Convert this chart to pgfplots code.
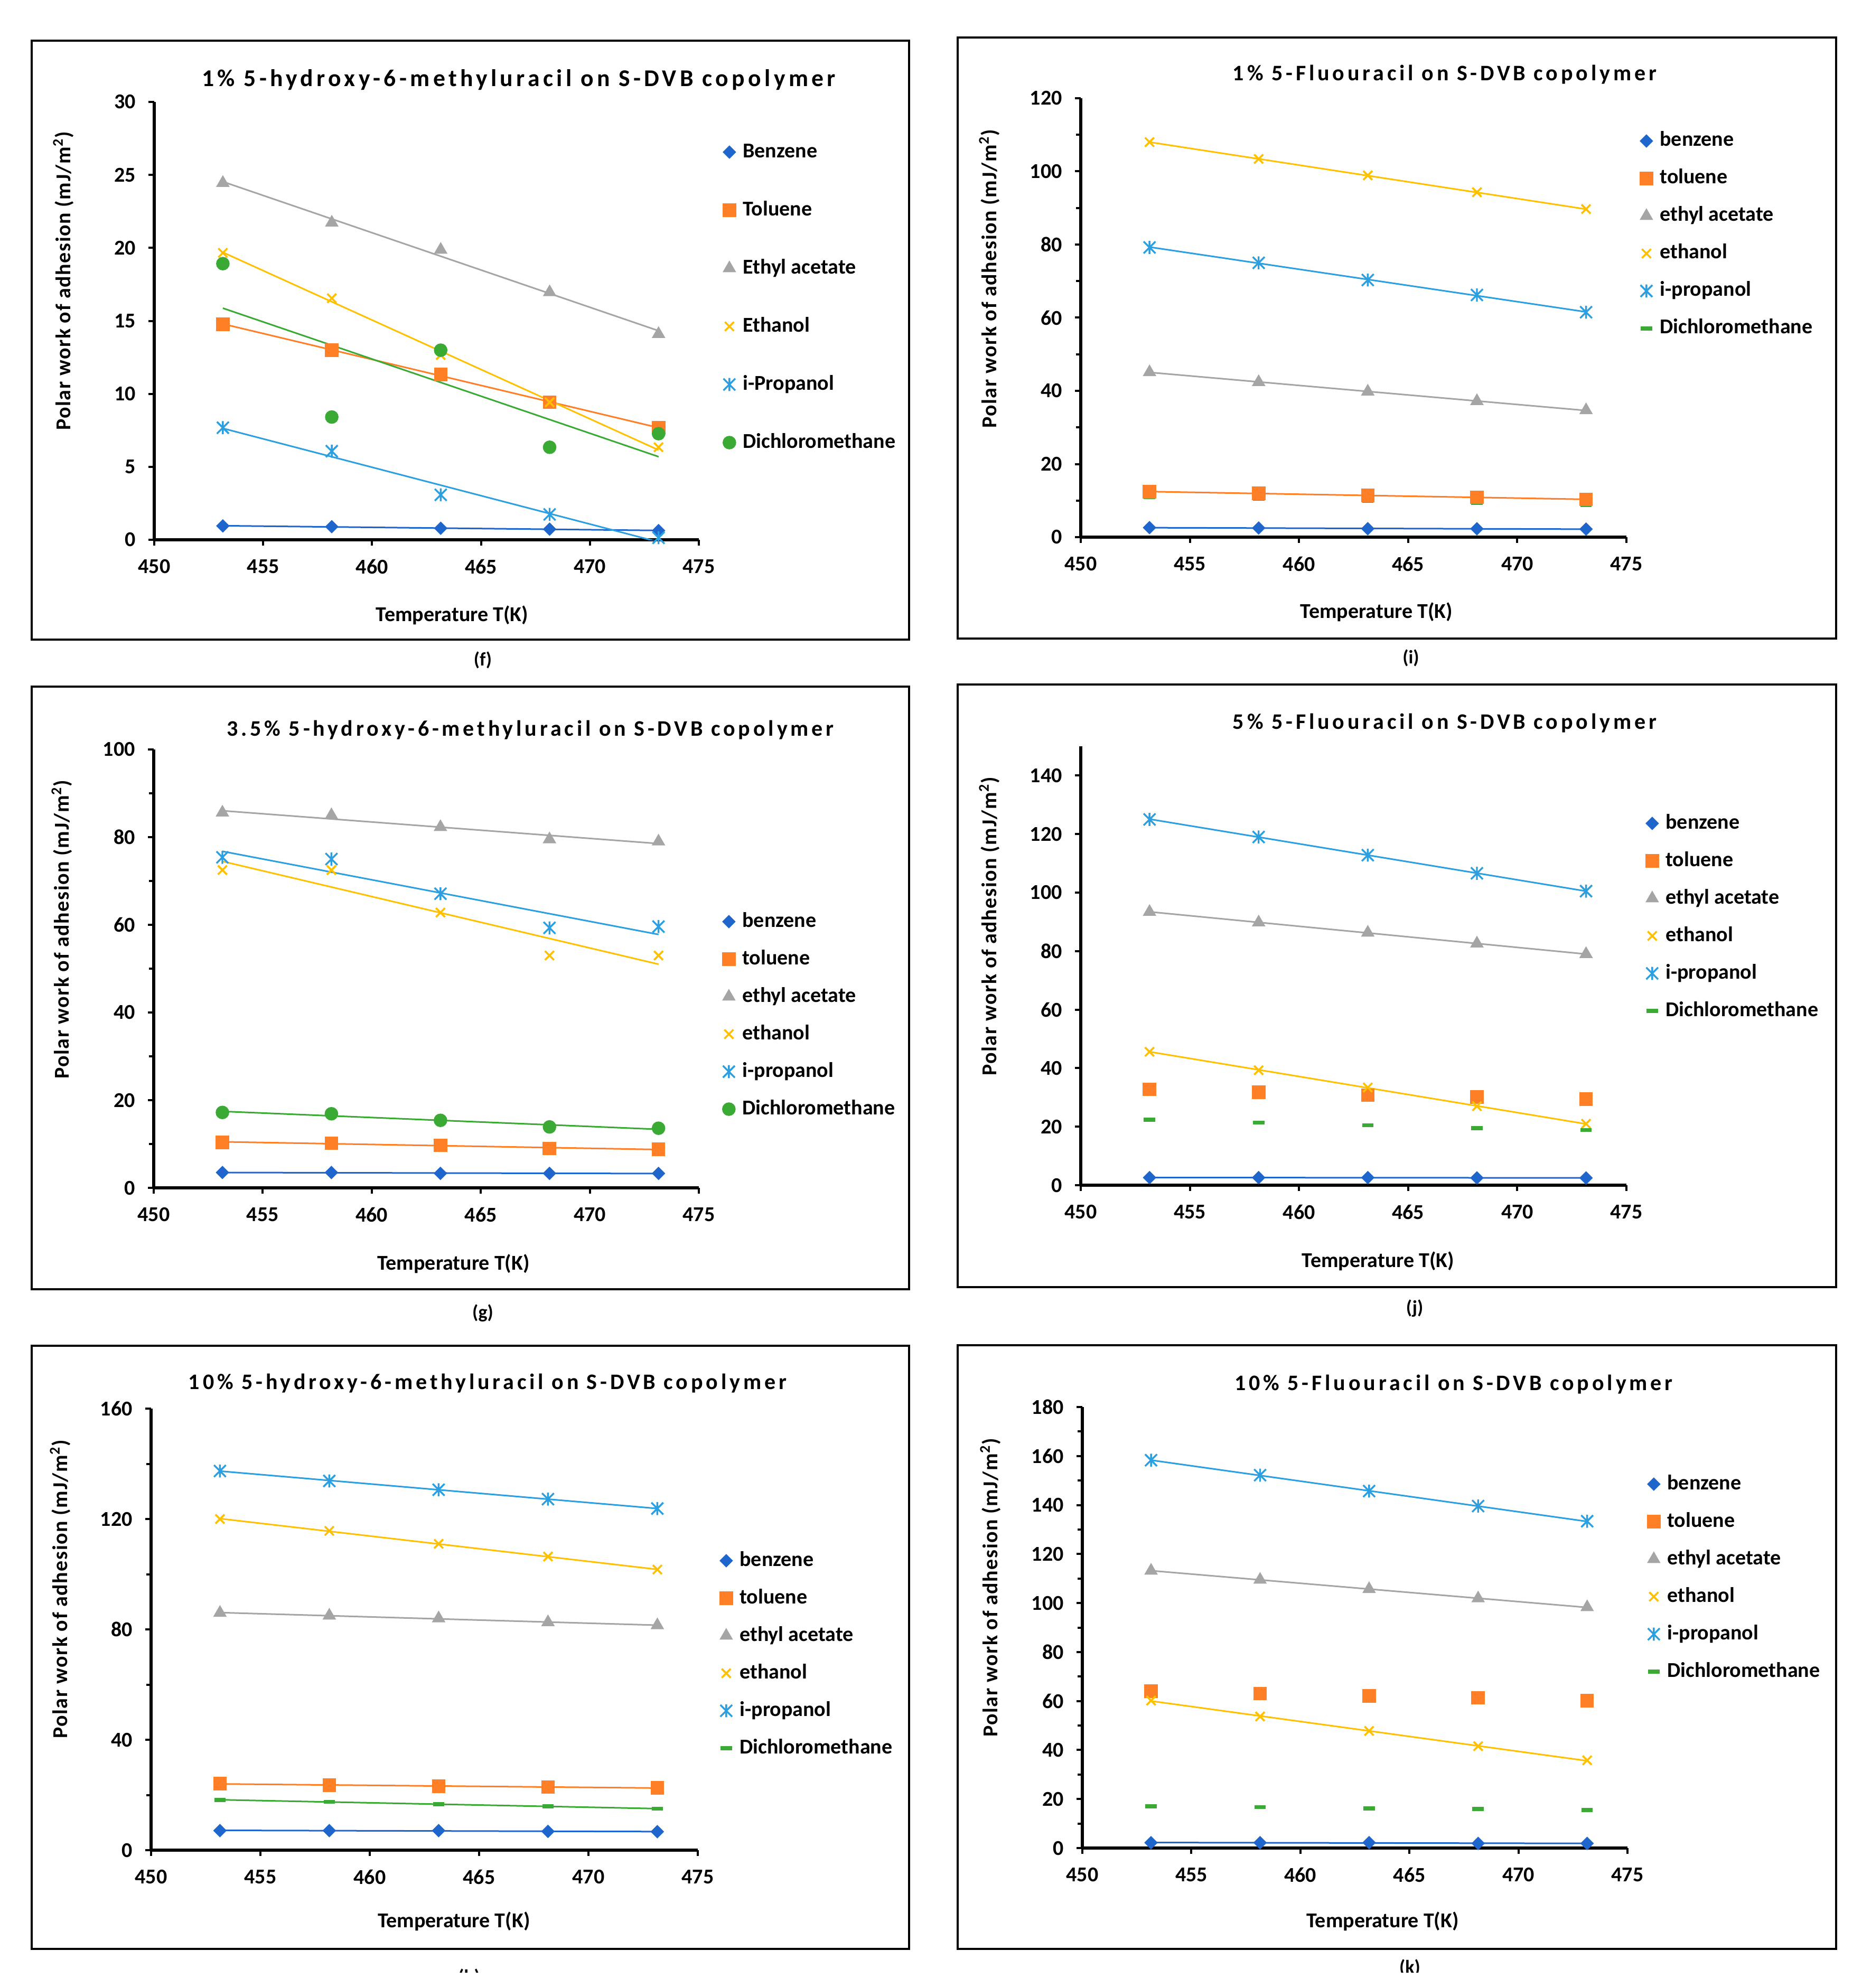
\documentclass[border=0pt]{standalone}
\usepackage{fontspec}
\setmainfont{Carlito}
\usepackage{pgfplots}
\usepackage{pgfplotstable}
\pgfplotsset{compat=1.18}

\definecolor{cBenz}{HTML}{1F66CC}
\definecolor{cTol}{HTML}{FF7F27}
\definecolor{cEA}{HTML}{A5A5A5}
\definecolor{cEth}{HTML}{FFC000}
\definecolor{cIpr}{HTML}{2C9FE0}
\definecolor{cDcm}{HTML}{3BAA35}

\pgfdeclareplotmark{xstar}{%
  \pgfpathmoveto{\pgfqpoint{-\pgfplotmarksize}{-\pgfplotmarksize}}%
  \pgfpathlineto{\pgfqpoint{\pgfplotmarksize}{\pgfplotmarksize}}%
  \pgfpathmoveto{\pgfqpoint{-\pgfplotmarksize}{\pgfplotmarksize}}%
  \pgfpathlineto{\pgfqpoint{\pgfplotmarksize}{-\pgfplotmarksize}}%
  \pgfpathmoveto{\pgfqpoint{0pt}{-1.1\pgfplotmarksize}}%
  \pgfpathlineto{\pgfqpoint{0pt}{1.1\pgfplotmarksize}}%
  \pgfusepathqstroke}
\pgfdeclareplotmark{sqdiam}{%
  \pgfpathmoveto{\pgfqpoint{0pt}{\pgfplotmarksize}}%
  \pgfpathlineto{\pgfqpoint{\pgfplotmarksize}{0pt}}%
  \pgfpathlineto{\pgfqpoint{0pt}{-\pgfplotmarksize}}%
  \pgfpathlineto{\pgfqpoint{-\pgfplotmarksize}{0pt}}%
  \pgfpathclose\pgfusepathqfillstroke}

\newcommand\tickfont{\fontsize{10}{12}\selectfont\bfseries}
\newcommand\titlefont{\fontsize{10.5}{12}\selectfont\bfseries\addfontfeatures{LetterSpace=14}}
\newcommand\titlefontbig{\fontsize{11.4}{13}\selectfont\bfseries\addfontfeatures{LetterSpace=14}}
\newcommand\ylfont{\fontsize{10}{12}\selectfont\bfseries\addfontfeatures{LetterSpace=4}}
\newcommand\capfont{\fontsize{9}{11}\selectfont\bfseries}

\pgfplotsset{
  legimg/.style={legend image code/.code={\path (-3.4pt,0pt) (3.4pt,0pt); \draw[##1] plot coordinates {(0pt,0pt)};}},
  mbenz/.style={only marks, mark=sqdiam, mark size=2.9pt, color=cBenz, legimg},
  mtol/.style={only marks, mark=square*, mark size=3.0pt, color=cTol, legimg},
  mea/.style={only marks, mark=triangle*, mark size=3.3pt, color=cEA, legimg},
  meth/.style={only marks, mark=x, mark size=3.0pt, color=cEth, mark options={line width=0.9pt}, legimg},
  mipr/.style={only marks, mark=xstar, mark size=2.8pt, color=cIpr, mark options={line width=0.85pt}, legimg},
  mdcmc/.style={only marks, mark=*, mark size=3.0pt, color=cDcm, legimg},
  mdcmd/.style={only marks, mark=-, mark size=2.7pt, color=cDcm, mark options={line width=1.9pt}, legimg},
  trend/.style={no markers, line width=0.75pt, forget plot},
  panel/.style={
    scale only axis, anchor=south west,
    xmin=450, xmax=475, xtick={450,455,460,465,470,475}, ymin=0,
    axis lines*=left,
    axis line style={line width=1.5pt, black},
    tick align=outside,
    major tick length=2.8pt, minor tick length=2.2pt,
    every tick/.style={black, line width=1pt},
    /pgf/number format/assume math mode=true,
    tick label style={font=\tickfont, black},
    xticklabel style={yshift=-3pt},
    yticklabel style={xshift=-2.5pt},
    title style={font=\titlefont, anchor=center, yshift=-6.5pt},
    xlabel style={font=\tickfont, anchor=center},
    ylabel style={font=\ylfont, anchor=center},
    xlabel={Temperature T(K)},
    ylabel={Polar work of adhesion (mJ/m\textsuperscript{2})},
    legend cell align=left,
    legend style={draw=none, fill=none, inner sep=0pt, outer sep=0pt, anchor=north west,
      column sep=2.8pt, row sep=8.75pt, font=\tickfont,
      nodes={inner sep=0pt, text height=7pt, text depth=2pt}},
  },
}

% (f) 1% 5-hydroxy-6-methyluracil
\pgfplotstableread{
T      benz  tol    ea     eth    ipr   dcm
453.15 0.95  14.76  24.45  19.66  7.68  18.92
458.15 0.90  12.99  21.73  16.55  6.07  8.41
463.15 0.79  11.33  19.87  12.66  3.08  12.99
468.15 0.73  9.42   16.96  9.42   1.74  6.34
473.15 0.63  7.68   14.10  6.34   0.14  7.27
}\tabF
% (i) 1% 5-fluorouracil
\pgfplotstableread{
T      benz  tol   ea    eth    ipr   dcm
453.15 2.6   12.4  45.1  108.0  79.2  11.0
458.15 2.5   12.0  42.4  103.4  75.0  10.5
463.15 2.3   11.4  39.8  98.9   70.3  10.0
468.15 2.3   10.9  37.2  94.3   66.2  9.4
473.15 2.2   10.3  34.7  89.7   61.5  8.8
}\tabI
% (g) 3.5% 5-hydroxy-6-methyluracil
\pgfplotstableread{
T      benz  tol   ea    eth   ipr   dcm
453.15 3.5   10.4  85.6  72.5  75.4  17.2
458.15 3.5   10.2  85.0  72.5  75.0  16.9
463.15 3.3   9.7   82.3  62.8  67.1  15.4
468.15 3.3   9.0   79.5  53.0  59.3  13.9
473.15 3.3   8.8   79.0  53.0  59.6  13.6
}\tabG
% (j) 5% 5-fluorouracil
\pgfplotstableread{
T      benz  tol   ea    eth   ipr    dcm
453.15 2.6   32.8  93.4  45.6  125.0  22.4
458.15 2.6   31.8  89.8  39.3  119.0  21.4
463.15 2.6   30.8  86.3  33.4  112.8  20.5
468.15 2.5   30.2  82.6  27.0  106.6  19.5
473.15 2.5   29.4  79.0  21.0  100.5  18.9
}\tabJ
% (h) 10% 5-hydroxy-6-methyluracil
\pgfplotstableread{
T      benz  tol   ea    eth    ipr    dcm
453.15 7.1   24.1  86.0  120.0  137.4  18.2
458.15 7.1   23.6  85.0  115.7  133.8  17.5
463.15 7.1   23.2  84.0  111.0  130.6  16.7
468.15 6.8   22.9  82.6  106.4  127.2  15.9
473.15 6.7   22.6  81.5  101.7  123.8  15.0
}\tabH
% (k) 10% 5-fluorouracil
\pgfplotstableread{
T      benz  tol   ea     eth   ipr    dcm
453.15 2.2   64.0  113.2  60.2  158.3  17.1
458.15 2.2   63.1  109.5  53.7  152.2  16.7
463.15 2.2   62.1  105.7  47.8  145.7  16.2
468.15 1.9   61.3  101.9  41.6  139.6  15.9
473.15 1.9   60.2  98.3   35.8  133.4  15.5
}\tabK

\begin{document}
\begin{tikzpicture}
\useasboundingbox (0pt,0pt) rectangle (881pt,-941pt);
% frames
\draw[line width=1.2pt] (15pt,-19.25pt) rectangle (430.25pt,-302.75pt);
\draw[line width=1.2pt] (453.25pt,-17.75pt) rectangle (869pt,-302.25pt);
\draw[line width=1.2pt] (15pt,-325pt) rectangle (430.25pt,-610.25pt);
\draw[line width=1.2pt] (453.25pt,-324pt) rectangle (869pt,-609.25pt);
\draw[line width=1.2pt] (15pt,-637pt) rectangle (430.25pt,-922.5pt);
\draw[line width=1.2pt] (453.25pt,-636.75pt) rectangle (869pt,-922.5pt);
% captions
\node[font=\capfont] at (228.5pt,-312.5pt) {(f)};
\node[font=\capfont] at (667.75pt,-311.5pt) {(i)};
\node[font=\capfont] at (228.5pt,-621.5pt) {(g)};
\node[font=\capfont] at (669.5pt,-619.25pt) {(j)};
\begin{scope}
\clip (0pt,0pt) rectangle (881pt,-933.5pt);
\node[font=\capfont] at (222pt,-936pt) {(h)};
\node[font=\capfont] at (667.25pt,-931.5pt) {(k)};
\end{scope}

% ---------- (f)
\begin{axis}[panel, at={(73pt,-255.5pt)}, width=257.75pt, height=207.25pt,
  ymax=30, ytick={0,5,10,15,20,25,30},
  title={1\% 5-hydroxy-6-methyluracil on S-DVB copolymer},
  title style={at={(axis description cs:0.6693,1.0531)}, font=\titlefontbig},
  xlabel style={at={(axis description cs:0.547,-0.1725)}},
  ylabel style={at={(axis description cs:-0.1668,0.5911)}},
  legend style={at={(1.0421,0.9071)}, row sep=18.5pt}]
\addplot[trend, cBenz] table[x=T, y={create col/linear regression={y=benz}}] {\tabF};
\addplot[trend, cTol] table[x=T, y={create col/linear regression={y=tol}}] {\tabF};
\addplot[trend, cEA] table[x=T, y={create col/linear regression={y=ea}}] {\tabF};
\addplot[trend, cEth] table[x=T, y={create col/linear regression={y=eth}}] {\tabF};
\addplot[trend, cIpr] table[x=T, y={create col/linear regression={y=ipr}}] {\tabF};
\addplot[trend, cDcm] table[x=T, y={create col/linear regression={y=dcm}}] {\tabF};
\addplot[mbenz] table[x=T, y=benz] {\tabF}; \addlegendentry{Benzene}
\addplot[mtol] table[x=T, y=tol] {\tabF}; \addlegendentry{Toluene}
\addplot[mea] table[x=T, y=ea] {\tabF}; \addlegendentry{Ethyl acetate}
\addplot[meth] table[x=T, y=eth] {\tabF}; \addlegendentry{Ethanol}
\addplot[mipr] table[x=T, y=ipr] {\tabF}; \addlegendentry{i-Propanol}
\addplot[mdcmc] table[x=T, y=dcm] {\tabF}; \addlegendentry{Dichloromethane}
\end{axis}

% ---------- (i)
\begin{axis}[panel, at={(511.5pt,-254.25pt)}, width=258.25pt, height=207.75pt,
  ymax=120, ytick={0,20,40,60,80,100,120}, minor y tick num=1,
  title={1\% 5-Fluouracil on S-DVB copolymer},
  title style={at={(axis description cs:0.6670,1.0566)}},
  xlabel style={at={(axis description cs:0.542,-0.1709)}},
  ylabel style={at={(axis description cs:-0.1675,0.5884)}},
  legend style={at={(1.0227,0.9242)}}]
\addplot[trend, cBenz] table[x=T, y={create col/linear regression={y=benz}}] {\tabI};
\addplot[trend, cTol] table[x=T, y={create col/linear regression={y=tol}}] {\tabI};
\addplot[trend, cEA] table[x=T, y={create col/linear regression={y=ea}}] {\tabI};
\addplot[trend, cEth] table[x=T, y={create col/linear regression={y=eth}}] {\tabI};
\addplot[trend, cIpr] table[x=T, y={create col/linear regression={y=ipr}}] {\tabI};
\addplot[mdcmd, forget plot] table[x=T, y=dcm] {\tabI};
\addplot[mbenz] table[x=T, y=benz] {\tabI}; \addlegendentry{benzene}
\addplot[mtol] table[x=T, y=tol] {\tabI}; \addlegendentry{toluene}
\addplot[mea] table[x=T, y=ea] {\tabI}; \addlegendentry{ethyl acetate}
\addplot[meth] table[x=T, y=eth] {\tabI}; \addlegendentry{ethanol}
\addplot[mipr] table[x=T, y=ipr] {\tabI}; \addlegendentry{i-propanol}
\addlegendimage{mdcmd}\addlegendentry{Dichloromethane}
\end{axis}

% ---------- (g)
\begin{axis}[panel, at={(72.75pt,-562.25pt)}, width=258pt, height=207.5pt,
  ymax=100, ytick={0,20,40,60,80,100}, minor y tick num=1,
  title={3.5\% 5-hydroxy-6-methyluracil on S-DVB copolymer},
  title style={at={(axis description cs:0.6909,1.0470)}},
  xlabel style={at={(axis description cs:0.550,-0.1735)}},
  ylabel style={at={(axis description cs:-0.1686,0.5892)}},
  legend style={at={(1.0411,0.6289)}}]
\addplot[trend, cBenz] table[x=T, y={create col/linear regression={y=benz}}] {\tabG};
\addplot[trend, cTol] table[x=T, y={create col/linear regression={y=tol}}] {\tabG};
\addplot[trend, cEA] table[x=T, y={create col/linear regression={y=ea}}] {\tabG};
\addplot[trend, cEth] table[x=T, y={create col/linear regression={y=eth}}] {\tabG};
\addplot[trend, cIpr] table[x=T, y={create col/linear regression={y=ipr}}] {\tabG};
\addplot[trend, cDcm] table[x=T, y={create col/linear regression={y=dcm}}] {\tabG};
\addplot[mbenz] table[x=T, y=benz] {\tabG}; \addlegendentry{benzene}
\addplot[mtol] table[x=T, y=tol] {\tabG}; \addlegendentry{toluene}
\addplot[mea] table[x=T, y=ea] {\tabG}; \addlegendentry{ethyl acetate}
\addplot[meth] table[x=T, y=eth] {\tabG}; \addlegendentry{ethanol}
\addplot[mipr] table[x=T, y=ipr] {\tabG}; \addlegendentry{i-propanol}
\addplot[mdcmc] table[x=T, y=dcm] {\tabG}; \addlegendentry{Dichloromethane}
\end{axis}

% ---------- (j)
\begin{axis}[panel, at={(511.5pt,-561pt)}, width=258.25pt, height=207.75pt,
  ymax=150, ytick={0,20,40,60,80,100,120,140},
  title={5\% 5-Fluouracil on S-DVB copolymer},
  title style={at={(axis description cs:0.6670,1.0554)}},
  xlabel style={at={(axis description cs:0.545,-0.1733)}},
  ylabel style={at={(axis description cs:-0.1675,0.5897)}},
  legend style={at={(1.0333,0.8460)}}]
\addplot[trend, cBenz] table[x=T, y={create col/linear regression={y=benz}}] {\tabJ};
\addplot[trend, cEA] table[x=T, y={create col/linear regression={y=ea}}] {\tabJ};
\addplot[trend, cEth] table[x=T, y={create col/linear regression={y=eth}}] {\tabJ};
\addplot[trend, cIpr] table[x=T, y={create col/linear regression={y=ipr}}] {\tabJ};
\addplot[mbenz] table[x=T, y=benz] {\tabJ}; \addlegendentry{benzene}
\addplot[mtol] table[x=T, y=tol] {\tabJ}; \addlegendentry{toluene}
\addplot[mea] table[x=T, y=ea] {\tabJ}; \addlegendentry{ethyl acetate}
\addplot[meth] table[x=T, y=eth] {\tabJ}; \addlegendentry{ethanol}
\addplot[mipr] table[x=T, y=ipr] {\tabJ}; \addlegendentry{i-propanol}
\addplot[mdcmd] table[x=T, y=dcm] {\tabJ}; \addlegendentry{Dichloromethane}
\end{axis}

% ---------- (h)
\begin{axis}[panel, at={(71.5pt,-875.75pt)}, width=258.75pt, height=209pt,
  ymax=160, ytick={0,40,80,120,160}, minor y tick num=1,
  title={10\% 5-hydroxy-6-methyluracil on S-DVB copolymer},
  title style={at={(axis description cs:0.6155,1.0598)}},
  xlabel style={at={(axis description cs:0.554,-0.1615)}},
  ylabel style={at={(axis description cs:-0.1662,0.5909)}},
  legend style={at={(1.0381,0.6770)}}]
\addplot[trend, cBenz] table[x=T, y={create col/linear regression={y=benz}}] {\tabH};
\addplot[trend, cTol] table[x=T, y={create col/linear regression={y=tol}}] {\tabH};
\addplot[trend, cEA] table[x=T, y={create col/linear regression={y=ea}}] {\tabH};
\addplot[trend, cEth] table[x=T, y={create col/linear regression={y=eth}}] {\tabH};
\addplot[trend, cIpr] table[x=T, y={create col/linear regression={y=ipr}}] {\tabH};
\addplot[trend, cDcm] table[x=T, y={create col/linear regression={y=dcm}}] {\tabH};
\addplot[mbenz] table[x=T, y=benz] {\tabH}; \addlegendentry{benzene}
\addplot[mtol] table[x=T, y=tol] {\tabH}; \addlegendentry{toluene}
\addplot[mea] table[x=T, y=ea] {\tabH}; \addlegendentry{ethyl acetate}
\addplot[meth] table[x=T, y=eth] {\tabH}; \addlegendentry{ethanol}
\addplot[mipr] table[x=T, y=ipr] {\tabH}; \addlegendentry{i-propanol}
\addplot[mdcmd] table[x=T, y=dcm] {\tabH}; \addlegendentry{Dichloromethane}
\end{axis}

% ---------- (k)
\begin{axis}[panel, at={(512.25pt,-874.75pt)}, width=258pt, height=208.75pt,
  ymax=180, ytick={0,20,40,60,80,100,120,140,160,180}, minor y tick num=1,
  title={10\% 5-Fluouracil on S-DVB copolymer},
  title style={at={(axis description cs:0.6812,1.0539)}},
  xlabel style={at={(axis description cs:0.551,-0.1665)}},
  ylabel style={at={(axis description cs:-0.1686,0.5904)}},
  legend style={at={(1.0343,0.8467)}}]
\addplot[trend, cBenz] table[x=T, y={create col/linear regression={y=benz}}] {\tabK};
\addplot[trend, cEA] table[x=T, y={create col/linear regression={y=ea}}] {\tabK};
\addplot[trend, cEth] table[x=T, y={create col/linear regression={y=eth}}] {\tabK};
\addplot[trend, cIpr] table[x=T, y={create col/linear regression={y=ipr}}] {\tabK};
\addplot[mbenz] table[x=T, y=benz] {\tabK}; \addlegendentry{benzene}
\addplot[mtol] table[x=T, y=tol] {\tabK}; \addlegendentry{toluene}
\addplot[mea] table[x=T, y=ea] {\tabK}; \addlegendentry{ethyl acetate}
\addplot[meth] table[x=T, y=eth] {\tabK}; \addlegendentry{ethanol}
\addplot[mipr] table[x=T, y=ipr] {\tabK}; \addlegendentry{i-propanol}
\addplot[mdcmd] table[x=T, y=dcm] {\tabK}; \addlegendentry{Dichloromethane}
\end{axis}
\end{tikzpicture}
\end{document}
